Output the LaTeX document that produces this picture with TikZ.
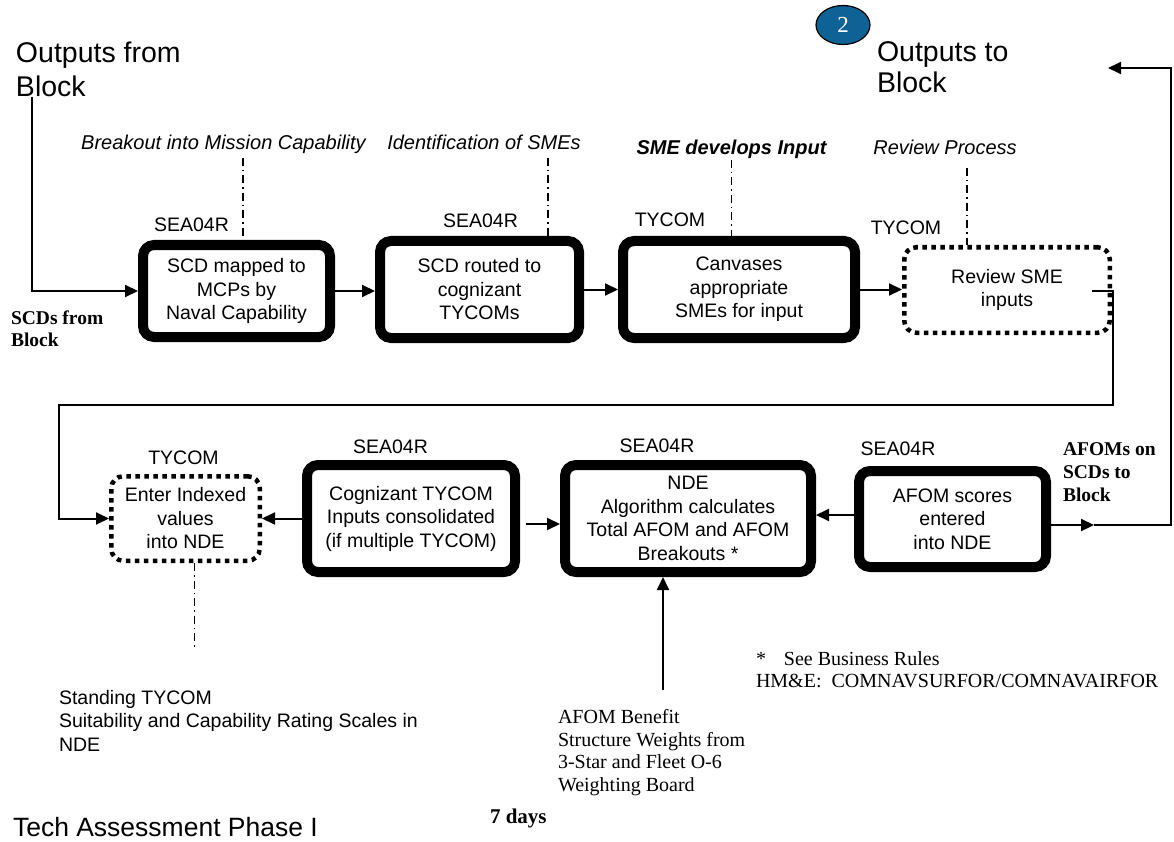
\documentclass[tikz,border=0pt]{standalone}
\usepackage{fontspec}
\setmainfont{Liberation Serif}
\setsansfont{Liberation Sans}
\usetikzlibrary{arrows.meta,shapes.geometric}
\definecolor{circblue}{RGB}{14,98,150}
\begin{document}
\begin{tikzpicture}[x=1pt,y=-1pt,
  every node/.style={inner sep=0pt, outer sep=0pt},
  sf/.style={font=\sffamily\fontsize{19.5}{23.5}\selectfont},
  sfit/.style={font=\sffamily\itshape\fontsize{20}{24}\selectfont},
  sfbig/.style={font=\sffamily\fontsize{28.5}{32}\selectfont},
  rmb/.style={font=\rmfamily\bfseries\fontsize{19.5}{23}\selectfont},
  rmn/.style={font=\rmfamily\fontsize{20}{22}\selectfont},
  rms/.style={font=\rmfamily\fontsize{20}{22.6}\selectfont},
  thickbox/.style={draw, line width=10pt, rounded corners=11pt, align=center, outer sep=5pt, sf},
  dotbox/.style={draw, line width=4.5pt, dash pattern=on 4.5pt off 4.5pt, rounded corners=12pt, align=center, outer sep=2.25pt, sf},
  conn/.style={line width=2pt, -{Triangle[length=13pt,width=12pt]}},
  ddash/.style={line width=1.3pt, dash pattern=on 8pt off 4pt on 1.5pt off 4pt}
]
\useasboundingbox (0,0) rectangle (1174,842);

% titles
\node[sfbig, anchor=base west] (of1) at (16,63) {Outputs from};
\node[sfbig, anchor=base west] (of2) at (16,97) {Block};
\node[sfbig, anchor=base west] (ot1) at (877,62) {Outputs to};
\node[sfbig, anchor=base west] (ot2) at (877,93) {Block};
\node[ellipse, draw, line width=1.2pt, fill=circblue, minimum width=54, minimum height=39,
      text=white, font=\rmfamily\fontsize{23}{25}\selectfont] (c2) at (843,25) {2};

% row 1 boxes
\node[thickbox, minimum width=187, minimum height=92] (b1) at (236.5,291) {SCD mapped to\\MCPs by\\Naval Capability};
\node[thickbox, minimum width=199, minimum height=97] (b2) at (479.5,289.5) {SCD routed to\\cognizant\\TYCOMs};
\node[thickbox, minimum width=232, minimum height=97] (b3) at (739,289.5) {Canvases\\appropriate\\SMEs for input};
\node[dotbox, minimum width=205.5, minimum height=85.5] (b4) at (1007,290) {Review SME\\inputs};

% row 1 role labels
\node[sf, anchor=base] (l1) at (191.5,232) {SEA04R};
\node[sf, anchor=base] (l2) at (480.5,228) {SEA04R};
\node[sf, anchor=base] (l3) at (670,227) {TYCOM};
\node[sf, anchor=base] (l4) at (906,235) {TYCOM};

% row 1 phase labels
\node[sfit, anchor=base] (p1) at (223.5,150) {Breakout into Mission Capability};
\node[sfit, anchor=base] (p2) at (484,150) {Identification of SMEs};
\node[sfit, anchor=base, font=\sffamily\bfseries\itshape\fontsize{20}{24}\selectfont] (p3) at (731.5,155) {SME develops Input};
\node[sfit, anchor=base] (p4) at (945,155) {Review Process};

\coordinate (d1) at (243,158);
\coordinate (d2) at (548,158);
\coordinate (d3) at (731.5,160);
\coordinate (d4) at (967,168);
\draw[ddash] (d1) -- (d1 |- b1.north);
\draw[ddash] (d2) -- (d2 |- b2.north);
\draw[ddash] (d3) -- (d3 |- b3.north);
\draw[ddash] (d4) -- (d4 |- b4.north);

% side texts
\node[rmb, anchor=base west] (s1) at (11,324) {SCDs from};
\node[rmb, anchor=base west] (s2) at (11,346) {Block};
\node[rmb, anchor=base west] (a1t) at (1063,455) {AFOMs on};
\node[rmb, anchor=base west] (a2t) at (1063,478) {SCDs to};
\node[rmb, anchor=base west] (a3t) at (1063,501) {Block};

% row 1 connectors
\coordinate (s0) at (32,97);
\draw[conn] (s0) |- (b1.west);
\draw[conn] (b1.east) -- (b1.east -| b2.west);
\draw[conn] (b2.east) -- (b2.east -| b3.west);
\draw[conn] (b3.east) -- (b3.east -| b4.west);

% row 2 boxes
\node[dotbox, minimum width=148.5, minimum height=84.5] (e1) at (185.5,518.5) {Enter Indexed\\values\\into NDE};
\node[thickbox, minimum width=208, minimum height=107] (c1) at (411,518.5) {Cognizant TYCOM\\Inputs consolidated\\(if multiple TYCOM)};
\node[thickbox, minimum width=246, minimum height=107] (n1) at (688,518.5) {NDE\\Algorithm calculates\\Total AFOM and AFOM\\Breakouts *};
\node[thickbox, minimum width=187, minimum height=96] (a1) at (952.5,519) {AFOM scores\\entered\\into NDE};

\node[sf, anchor=base] (l5) at (183.5,464) {TYCOM};
\node[sf, anchor=base] (l6) at (390.5,453) {SEA04R};
\node[sf, anchor=base] (l7) at (657,452) {SEA04R};
\node[sf, anchor=base] (l8) at (898,455) {SEA04R};

% loop from review box to row 2
\coordinate (r4) at (1092,291);
\coordinate (r4a) at (1113,291);
\coordinate (r4b) at (1113,405);
\coordinate (r4c) at (58.5,405);
\draw[conn] (r4) -- (r4a) -- (r4b) -- (r4c) |- (e1.west);

% row 2 connectors
\draw[conn] (c1.west) -- (c1.west -| e1.east);
\coordinate (c1o) at ([shift={(6,5.5)}]c1.east);
\draw[conn] (c1o) -- (c1o -| n1.west);
\coordinate (a1o) at ([shift={(9,-4)}]a1.west);
\draw[conn] (a1o) -- (a1o -| n1.east);
\coordinate (a1e) at ([shift={(0,6)}]a1.east);
\coordinate (amid) at (1094,525);
\coordinate (tr) at (1171,68);
\coordinate (toparr) at (1108,68);
\draw[conn] (a1e) -- (amid);
\draw[conn] (amid) -| (tr) -- (toparr);

% weights arrow
\coordinate (wb) at (663,690);
\draw[conn] (wb) -- (wb |- n1.south);

% dash-dot below enter box
\coordinate (d5) at (194.5,650);
\draw[ddash] (d5 |- e1.south) -- (d5);

% bottom texts
\node[sf, anchor=base west] (st1) at (59,704) {Standing TYCOM};
\node[sf, anchor=base west] (st2) at (59,727) {Suitability and Capability Rating Scales in};
\node[sf, anchor=base west] (st3) at (59,751) {NDE};

\node[rms, anchor=base west] (w1) at (558,723) {AFOM Benefit};
\node[rms, anchor=base west] (w2) at (558,746) {Structure Weights from};
\node[rms, anchor=base west] (w3) at (558,768) {3-Star and Fleet O-6};
\node[rms, anchor=base west] (w4) at (558,791) {Weighting Board};

\node[rmn, anchor=base west] (br1) at (756,665) {*\hspace{0.9em}See Business Rules};
\node[rmn, anchor=base west] (br2) at (756,687) {HM\&E:\ \ COMNAVSURFOR/COMNAVAIRFOR};

\node[font=\rmfamily\bfseries\fontsize{21}{24}\selectfont, anchor=base west] (days) at (490,823) {7 days};
\node[font=\sffamily\fontsize{26.5}{30}\selectfont, anchor=base west] (tap) at (13,836) {Tech Assessment Phase I};

\end{tikzpicture}
\end{document}
